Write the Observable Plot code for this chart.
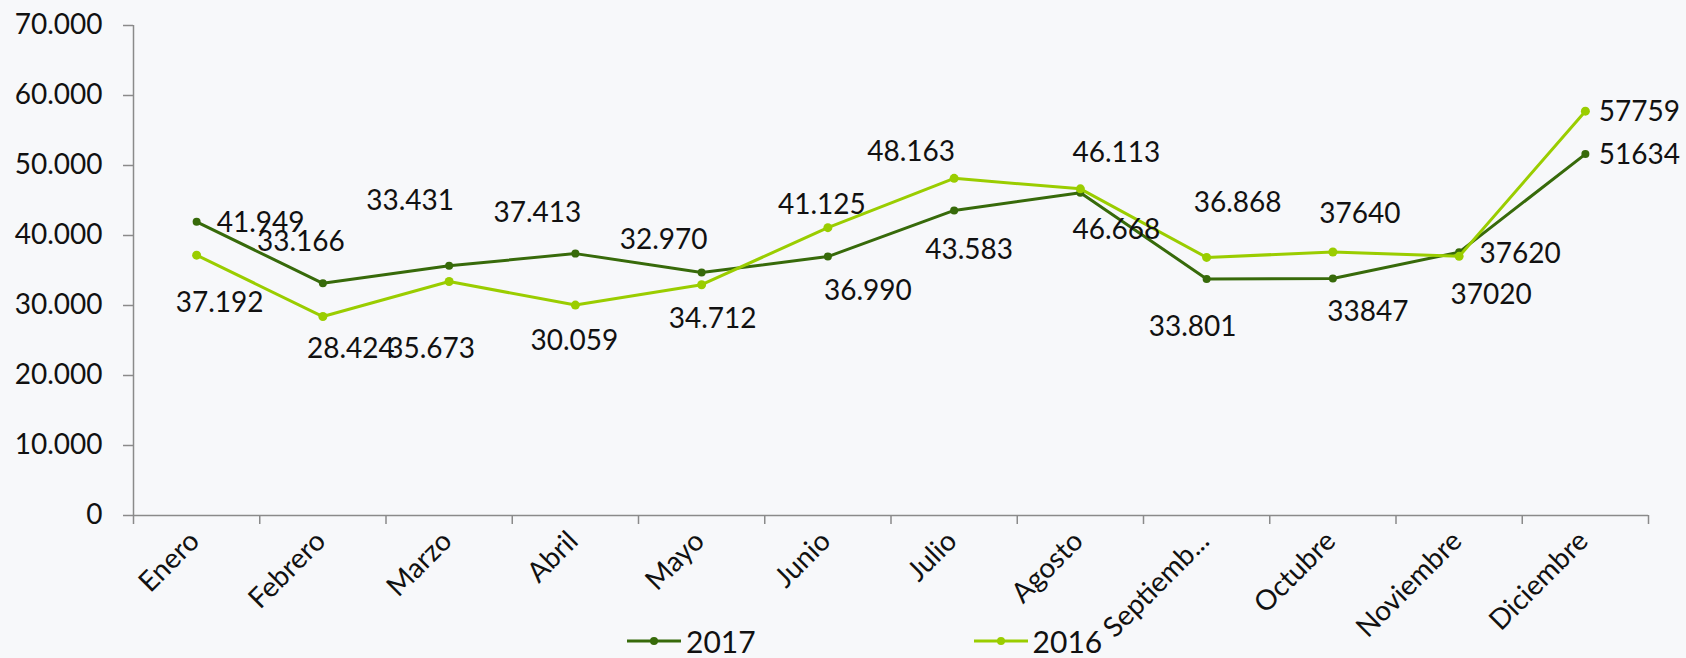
<!DOCTYPE html>
<html><head><meta charset="utf-8">
<script src="https://cdn.jsdelivr.net/npm/d3@7"></script>
<script src="https://cdn.jsdelivr.net/npm/@observablehq/plot@0.6"></script>
<style>
html,body{margin:0;padding:0;background:#f7f8fa;}
#wrap{position:relative;width:1686px;height:658px;overflow:hidden;}
#chart svg{display:block;overflow:visible}
.legend{position:absolute;left:627px;top:622px;display:flex;align-items:center;height:38px;font-family:Lato,sans-serif;font-size:30px;line-height:1;color:#111;}
.item{display:flex;align-items:center;}
.item span{margin-left:5px;line-height:1;}
.item + .item{margin-left:218px;}
</style></head><body>
<div id="wrap">
<div id="chart"></div>
<div class="legend" id="legend"></div>
</div>
<script>
// ---- data ----
const months = ["Enero","Febrero","Marzo","Abril","Mayo","Junio","Julio","Agosto","Septiemb...","Octubre","Noviembre","Diciembre"];
const values2017 = [41949, 33166, 35673, 37413, 34712, 36990, 43583, 46113, 33801, 33847, 37620, 51634];
const values2016 = [37192, 28424, 33431, 30059, 32970, 41125, 48163, 46668, 36868, 37640, 37020, 57759];
const seriesNames = ["2017", "2016"];
const yTicks = [0, 10000, 20000, 30000, 40000, 50000, 60000, 70000];
const dottedLabelCount = 9; // first nine months show a thousands separator in the source labels

// ---- label placement (styling: offsets of each data label from its point, px) ----
const labelOffsets2017 = [[64,1],[-22,-41],[-18,83],[-38,-41],[11,47],[40,34],[15,40],[36,-40],[-14,48],[35,33],[61,2],[54,1]];
const labelOffsets2016 = [[23,48],[28,32],[-39,-80],[-1,36],[-38,-45],[-6,-23],[-43,-26],[36,41],[31,-54],[27,-38],[32,39],[54,1]];

const colors = {"2017": "#376a0a", "2016": "#9acd00"};
const axisColor = "#8a8a8a";
const textColor = "#111";

const fmtDot = d3.formatLocale({thousands: ".", grouping: [3], decimal: ","}).format(",");
const labelText = (v, i) => i < dottedLabelCount ? fmtDot(v) : String(v);

const rows = [];
[[seriesNames[0], values2017, labelOffsets2017], [seriesNames[1], values2016, labelOffsets2016]].forEach(([name, vals, offs]) => {
  vals.forEach((v, i) => rows.push({series: name, i, x: i + 0.5, month: months[i], value: v, label: labelText(v, i), dx: offs[i][0], dy: offs[i][1]}));
});
const byS = s => rows.filter(r => r.series === s);

const H = 658;
const labelMarks = rows.map(r => Plot.text([r], {x: "x", y: "value", text: "label", dx: r.dx, dy: r.dy, fill: textColor, textAnchor: "middle"}));

const chart = Plot.plot({
  width: 1686,
  height: H,
  marginLeft: 133,
  marginRight: 38,
  marginTop: 25,
  marginBottom: H - 515,
  style: {background: "#f7f8fa", fontFamily: "Lato, sans-serif", fontSize: "28px", color: textColor},
  x: {type: "linear", domain: [0, months.length]},
  y: {domain: [0, 70000]},
  marks: [
    Plot.axisY({ticks: yTicks, tickFormat: fmtDot, tickSize: 10, tickPadding: 21, stroke: axisColor, strokeWidth: 1.5, fill: textColor, label: null}),
    Plot.axisX({ticks: d3.range(months.length + 1), tickSize: 9, tickFormat: () => "", stroke: axisColor, strokeWidth: 1.5, label: null}),
    Plot.ruleX([0], {y1: 0, y2: 70000, stroke: axisColor, strokeWidth: 1.5}),
    Plot.ruleY([0], {x1: 0, x2: months.length, stroke: axisColor, strokeWidth: 1.5}),
    Plot.text(months.map((m, i) => ({m, x: i + 0.5})), {x: "x", y: () => 0, text: "m", rotate: -45, textAnchor: "end", lineAnchor: "middle", dy: 21, dx: -2, fill: textColor}),
    Plot.line(byS("2017"), {x: "x", y: "value", stroke: colors["2017"], strokeWidth: 3}),
    Plot.dot(byS("2017"), {x: "x", y: "value", r: 4, fill: colors["2017"]}),
    Plot.line(byS("2016"), {x: "x", y: "value", stroke: colors["2016"], strokeWidth: 3}),
    Plot.dot(byS("2016"), {x: "x", y: "value", r: 4.5, fill: colors["2016"]}),
    ...labelMarks
  ]
});
document.getElementById("chart").appendChild(chart);

const legend = document.getElementById("legend");
seriesNames.forEach(s => {
  const item = document.createElement("div");
  item.className = "item";
  item.innerHTML = `<svg width="54" height="12"><line x1="0" y1="6" x2="54" y2="6" stroke="${colors[s]}" stroke-width="3"/><circle cx="27" cy="6" r="4" fill="${colors[s]}"/></svg><span>${s}</span>`;
  legend.appendChild(item);
});
</script>
</body></html>
